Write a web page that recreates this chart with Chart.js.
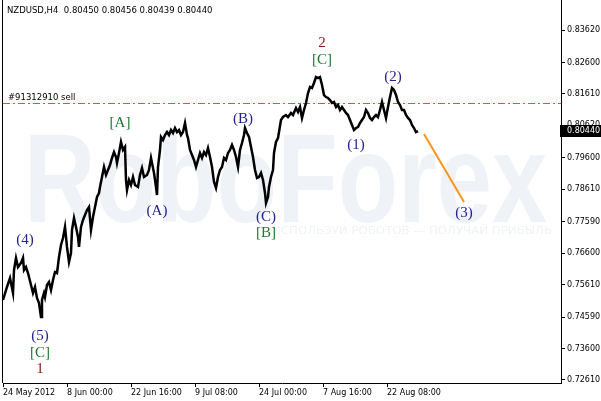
<!DOCTYPE html>
<html>
<head>
<meta charset="utf-8">
<script src="https://cdn.jsdelivr.net/npm/chart.js@4.4.0/dist/chart.umd.min.js"></script>
<style>
  html, body { margin: 0; padding: 0; background: #fff; }
  #chart { display: block; }
</style>
</head>
<body>
<canvas id="chart" width="601" height="401"></canvas>
<script>
// --- Data (H4 bars, one bar per pixel) ---
const barIndex = [
  0, 4, 7, 10, 11, 13, 15, 18, 20, 21,
  23, 25, 28, 30, 32, 34, 36, 38, 39, 41,
  42, 44, 46, 48, 50, 52, 54, 56, 58, 60,
  62, 64, 66, 68, 69, 71, 73, 75, 76, 78,
  80, 82, 84, 86, 88, 90, 92, 94, 96, 97,
  99, 101, 103, 105, 107, 109, 111, 113, 114, 116,
  118, 120, 122, 123, 124, 126, 128, 130, 132, 135,
  137, 139, 141, 144, 146, 148, 149, 151, 153, 154,
  155, 157, 158, 160, 162, 164, 166, 168, 170, 172,
  174, 176, 178, 180, 182, 184, 185, 187, 189, 191,
  193, 195, 197, 199, 201, 203, 205, 207, 209, 211,
  213, 215, 217, 219, 221, 223, 225, 227, 229, 231,
  233, 235, 237, 239, 241, 242, 244, 246, 248, 250,
  252, 254, 256, 258, 260, 262, 263, 265, 266, 268,
  270, 271, 273, 275, 276, 278, 280, 283, 285, 288,
  290, 293, 295, 297, 299, 301, 303, 305, 307, 309,
  311, 313, 315, 317, 319, 321, 323, 325, 327, 329,
  331, 333, 335, 337, 339, 341, 343, 345, 347, 349,
  351, 353, 355, 357, 359, 361, 363, 365, 367, 369,
  371, 373, 375, 377, 379, 381, 383, 385, 387, 389,
  391, 393, 395, 397, 399, 401, 403, 405, 407, 409,
  411, 413, 415
];
const closePrices = [
  0.75127, 0.75536, 0.75819, 0.75347, 0.76070, 0.76448, 0.76165, 0.76291, 0.76448, 0.76070,
  0.76165, 0.75976, 0.75598, 0.75347, 0.75536, 0.75190, 0.75032, 0.74592, 0.75127, 0.75347,
  0.75221, 0.75598, 0.75693, 0.75441, 0.75756, 0.76007, 0.75976, 0.76479, 0.76857, 0.77077,
  0.77423, 0.76794, 0.76322, 0.76605, 0.77329, 0.77706, 0.77423, 0.77108, 0.76794, 0.77423,
  0.77643, 0.77800, 0.77958, 0.78052, 0.77329, 0.77738, 0.78052, 0.78367, 0.78493, 0.78681,
  0.78996, 0.79310, 0.79059, 0.79216, 0.79373, 0.79594, 0.79782, 0.79625, 0.79436, 0.79751,
  0.80097, 0.79845, 0.79940, 0.78901, 0.78587, 0.78901, 0.78744, 0.78996, 0.78744, 0.78681,
  0.79059, 0.79279, 0.78996, 0.79059, 0.79216, 0.79594, 0.79436, 0.79122, 0.78681, 0.78430,
  0.79310, 0.79845, 0.80254, 0.80160, 0.80317, 0.80411, 0.80317, 0.80474, 0.80380, 0.80537,
  0.80411, 0.80474, 0.80317, 0.80411, 0.80695, 0.80317, 0.80223, 0.79845, 0.79688, 0.79531,
  0.79310, 0.79531, 0.79751, 0.79594, 0.79782, 0.79688, 0.79908, 0.79625, 0.79310, 0.78839,
  0.78650, 0.78996, 0.79216, 0.79310, 0.79594, 0.79531, 0.79751, 0.79845, 0.80003, 0.79845,
  0.79625, 0.79310, 0.79845, 0.80065, 0.80317, 0.80537, 0.80380, 0.80254, 0.79940, 0.79625,
  0.79216, 0.78964, 0.78996, 0.79122, 0.78901, 0.78493, 0.78178, 0.78367, 0.78681, 0.78996,
  0.79216, 0.79751, 0.80097, 0.80223, 0.80411, 0.80789, 0.80883, 0.80946, 0.80883, 0.81009,
  0.80946, 0.81166, 0.81040, 0.81198, 0.80852, 0.81104, 0.81324, 0.81638, 0.81827, 0.81796,
  0.81953, 0.82142, 0.82110, 0.82142, 0.81890, 0.81575, 0.81512, 0.81481, 0.81418, 0.81324,
  0.81355, 0.81198, 0.81261, 0.81104, 0.81198, 0.81104, 0.81009, 0.80946, 0.80789, 0.80632,
  0.80474, 0.80537, 0.80569, 0.80695, 0.80789, 0.80883, 0.81104, 0.81009, 0.80852, 0.80789,
  0.80883, 0.80946, 0.80883, 0.81104, 0.81355, 0.81104, 0.80852, 0.81198, 0.81512, 0.81796,
  0.81733, 0.81575, 0.81355, 0.81261, 0.81104, 0.81104, 0.80946, 0.80852, 0.80789, 0.80632,
  0.80537, 0.80411, 0.80440
];

// forecast segment toward wave (3)
const forecastBars = [421, 461];
const forecastPrices = [0.80348, 0.78210];

// pending order level
const sellLevel = 0.81308;
const sellLabel = '#91312910 sell';

// axis ticks
const yTickValues = [0.72610, 0.73600, 0.74590, 0.75610, 0.76600, 0.77590,
                     0.78610, 0.79600, 0.80620, 0.81610, 0.82600, 0.83620];
const xTickBars = [0, 64, 128, 192, 256, 320, 384];
const xTickLabels = ['24 May 2012', '8 Jun 00:00', '22 Jun 16:00', '9 Jul 08:00',
                     '24 Jul 00:00', '7 Aug 16:00', '22 Aug 08:00'];

// wave marks
const waveText  = ['(4)', '(5)', '[C]', '1', '[A]', '(A)', '(B)', '(C)', '[B]', '2', '[C]', '(1)', '(2)', '(3)'];
const waveBar   = [22, 37, 37, 37, 117, 154, 240, 263, 263, 319, 319, 353, 390, 461];
const wavePrice = [0.77014, 0.73994, 0.73459, 0.72956, 0.80695, 0.77926, 0.80820,
                   0.77738, 0.77234, 0.83211, 0.82676, 0.80002, 0.82142, 0.77863];
const waveDegree = ['minor', 'minor', 'inter', 'major', 'inter', 'minor', 'minor',
                    'minor', 'inter', 'major', 'inter', 'minor', 'minor', 'minor'];

const symbolTitle = 'NZDUSD,H4  0.80450 0.80456 0.80439 0.80440';
const lastPrice = 0.80440;

const degreeColor = { minor: '#23238f', inter: '#1d7a2e', major: '#8a1616' };
const SANS = '"DejaVu Sans", sans-serif';

const overlay = {
    id: 'overlay',
    beforeDatasetsDraw(chart) {
        const { ctx, chartArea: a } = chart;
        ctx.save();
        ctx.beginPath();
        ctx.rect(a.left, a.top, a.right - a.left, a.bottom - a.top);
        ctx.clip();
        ctx.fillStyle = '#eff2f6';
        ctx.font = 'bold 126px "Liberation Sans", sans-serif';
        ctx.textBaseline = 'alphabetic';
        const w = ctx.measureText('RoboForex').width;
        ctx.save();
        ctx.translate(24, 222);
        ctx.scale(523 / w, 1);
        ctx.fillText('RoboForex', 0, 0);
        ctx.restore();
        ctx.font = '11px ' + SANS;
        const sub = 'ИСПОЛЬЗУЙ РОБОТОВ — ПОЛУЧАЙ ПРИБЫЛЬ';
        const sw = ctx.measureText(sub).width;
        ctx.translate(272, 234);
        ctx.scale(280 / sw, 1);
        ctx.fillText(sub, 0, 0);
        ctx.restore();
    },
    afterDatasetsDraw(chart) {
        const { ctx, scales: { x, y } } = chart;
        ctx.save();
        ctx.textAlign = 'center';
        ctx.textBaseline = 'middle';
        ctx.font = '15px "Liberation Serif", serif';
        waveText.forEach((t, i) => {
            ctx.fillStyle = degreeColor[waveDegree[i]];
            ctx.fillText(t, x.getPixelForValue(waveBar[i]), y.getPixelForValue(wavePrice[i]));
        });
        ctx.textAlign = 'left';
        ctx.font = '8.5px ' + SANS;
        ctx.fillStyle = '#000';
        ctx.fillText(sellLabel, 8, y.getPixelForValue(sellLevel) - 6);
        ctx.restore();
    },
    afterDraw(chart) {
        const { ctx, chartArea: a, scales: { y } } = chart;
        ctx.save();
        // frame on the left
        ctx.strokeStyle = '#000';
        ctx.lineWidth = 1;
        ctx.beginPath();
        ctx.moveTo(a.left - 0.5, 0);
        ctx.lineTo(a.left - 0.5, a.bottom);
        ctx.stroke();
        // symbol title
        ctx.fillStyle = '#000';
        ctx.font = '8.5px ' + SANS;
        ctx.textBaseline = 'middle';
        ctx.fillText(symbolTitle, 7, 11);
        // current price box
        const py = Math.round(y.getPixelForValue(lastPrice));
        ctx.fillStyle = '#000';
        ctx.fillRect(a.right - 1, py - 6, 601 - a.right + 1, 12);
        ctx.fillStyle = '#fff';
        ctx.font = '8px ' + SANS;
        ctx.fillText(lastPrice.toFixed(5), a.right + 6, py);
        ctx.restore();
    }
};

const pxPerUnit = 3178.9;
const yMin = 0.72610 - 3 / pxPerUnit;
const yMax = 0.72610 + 380 / pxPerUnit;

// drop the label half-height padding Chart.js reserves at the axis ends
function noEndPadding(s) {
    s.paddingTop = 0;
    s.paddingBottom = 0;
    s.paddingLeft = 0;
    s.paddingRight = 0;
}

new Chart(document.getElementById('chart'), {
    type: 'line',
    data: {
        datasets: [
            {
                label: 'NZDUSD',
                data: barIndex.map((b, i) => ({ x: b, y: closePrices[i] })),
                borderColor: '#000',
                borderWidth: 2.5,
                pointRadius: 0,
                tension: 0
            },
            {
                label: 'forecast',
                data: forecastBars.map((b, i) => ({ x: b, y: forecastPrices[i] })),
                borderColor: '#f7961c',
                borderWidth: 2,
                pointRadius: 0
            },
            {
                label: 'sell',
                data: [{ x: 0, y: sellLevel }, { x: 558, y: sellLevel }],
                borderColor: '#ff4a14',
                borderWidth: 1.2,
                borderDash: [7, 3, 2, 3],
                pointRadius: 0
            }
        ]
    },
    options: {
        responsive: false,
        devicePixelRatio: 1,
        animation: false,
        layout: { padding: { left: 3, top: 0, right: 0, bottom: 0 } },
        plugins: { legend: { display: false }, tooltip: { enabled: false } },
        scales: {
            x: {
                type: 'linear',
                min: 0,
                max: 558,
                afterFit: s => { s.height = 18; noEndPadding(s); },
                afterBuildTicks: s => { s.ticks = xTickBars.map(v => ({ value: v })); },
                ticks: {
                    callback: (v, i) => xTickLabels[i],
                    align: 'start',
                    autoSkip: false,
                    maxRotation: 0,
                    padding: 1,
                    color: '#000',
                    font: { family: SANS, size: 8 }
                },
                grid: { drawOnChartArea: false, drawTicks: true, tickLength: 4, color: '#000' },
                border: { display: true, color: '#000' }
            },
            y: {
                type: 'linear',
                position: 'right',
                min: yMin,
                max: yMax,
                afterFit: s => { s.width = 40; noEndPadding(s); },
                afterBuildTicks: s => { s.ticks = yTickValues.map(v => ({ value: v })); },
                ticks: {
                    callback: v => v.toFixed(5),
                    padding: 2,
                    color: '#000',
                    font: { family: SANS, size: 8 }
                },
                grid: { drawOnChartArea: false, drawTicks: true, tickLength: 4, color: '#000' },
                border: { display: true, color: '#000' }
            }
        }
    },
    plugins: [overlay]
});
</script>
</body>
</html>
